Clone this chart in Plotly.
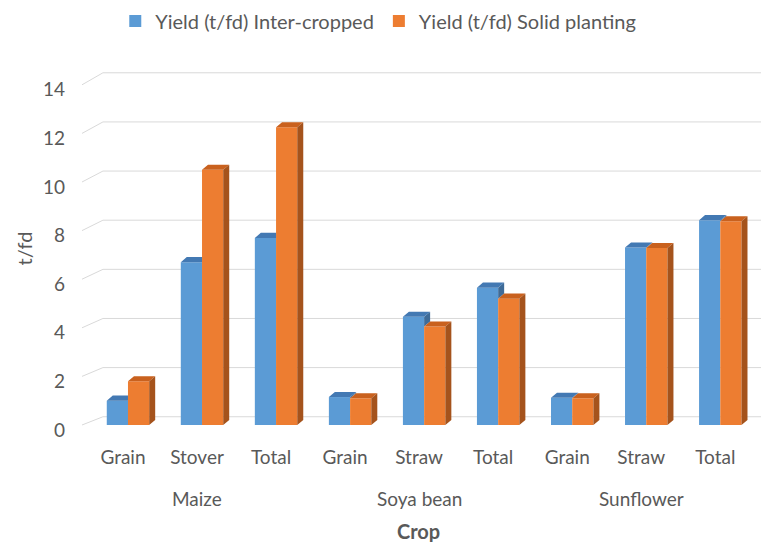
import plotly.graph_objects as go

crops = ["Maize", "Soya bean", "Sunflower"]
parts = ["Grain", "Stover", "Total", "Grain", "Straw", "Total", "Grain", "Straw", "Total"]
crop_of_part = ["Maize"] * 3 + ["Soya bean"] * 3 + ["Sunflower"] * 3
inter_cropped = [1.0, 6.7, 7.7, 1.15, 4.45, 5.65, 1.12, 7.3, 8.43]
solid_planting = [1.8, 10.5, 12.25, 1.1, 4.05, 5.2, 1.1, 7.28, 8.38]
y_ticks = [0, 2, 4, 6, 8, 10, 12, 14]

FONT = "Lato"
GREY = "#595959"
FS = 19
BLUE, BLUE_TOP, BLUE_SIDE = "#5B9BD5", "#4379B3", "#3E6B98"
ORANGE, ORANGE_TOP, ORANGE_SIDE = "#ED7D31", "#C9611E", "#A5531C"

bargap = 0.427
w = (1 - bargap) / 2          # width of one bar in category units
dx = 0.081                    # depth offset (category units)
dy = 0.21                     # depth offset (value units)

xs = list(range(len(parts)))

fig = go.Figure()
fig.add_trace(go.Bar(x=xs, y=inter_cropped, name="Yield (t/fd) Inter-cropped",
                     marker=dict(color=BLUE, line=dict(width=0))))
fig.add_trace(go.Bar(x=xs, y=solid_planting, name="Yield (t/fd) Solid planting",
                     marker=dict(color=ORANGE, line=dict(width=0))))

# 3-D faces built from the data values
def poly_trace(px, py, color):
    return go.Scatter(x=px, y=py, mode="lines", fill="toself", fillcolor=color,
                      line=dict(width=0, color=color), showlegend=False,
                      hoverinfo="skip")

bs_x, bs_y, bt_x, bt_y, ot_x, ot_y, os_x, os_y = ([] for _ in range(8))
for i, (b, o) in enumerate(zip(inter_cropped, solid_planting)):
    xl, xm, xr = i - w, i, i + w
    if b > o:
        bs_x += [xm, xm, xm + dx, xm + dx, None]
        bs_y += [o, b, b + dy, o + dy, None]
        bt_x += [xl, xm, xm + dx, xl + dx, None]
        bt_y += [b, b, b + dy, b + dy, None]
    else:
        bt_x += [xl, xm, xm, xl + dx, None]
        bt_y += [b, b, b + dy, b + dy, None]
    ot_x += [xm, xr, xr + dx, xm + dx, None]
    ot_y += [o, o, o + dy, o + dy, None]
    os_x += [xr, xr, xr + dx, xr + dx, None]
    os_y += [0, o, o + dy, dy, None]

fig.add_trace(poly_trace(bs_x, bs_y, BLUE_SIDE))
fig.add_trace(poly_trace(bt_x, bt_y, BLUE_TOP))
fig.add_trace(poly_trace(ot_x, ot_y, ORANGE_TOP))
fig.add_trace(poly_trace(os_x, os_y, ORANGE_SIDE))

# walls: gridlines on the back wall with short diagonal on the side wall
x_front, x_back, x_end = -0.621, -0.338, 8.7
shapes = []
for v in y_ticks:
    vb = 0.34 + 1.011 * v
    shapes.append(dict(type="path", xref="x", yref="y", layer="below",
                       path=f"M {x_front},{v} L {x_back},{vb} L {x_end},{vb}",
                       line=dict(color="#D9D9D9", width=1)))

annotations = []
for k, c in enumerate(crops):
    annotations.append(dict(x=3 * k + 1, y=-0.199, xref="x", yref="paper",
                            text=c, showarrow=False, xshift=-5,
                            font=dict(family=FONT, size=FS, color=GREY),
                            yanchor="middle"))
annotations.append(dict(x=0.495, y=-0.291, xref="paper", yref="paper",
                        text="<b>Crop</b>", showarrow=False,
                        font=dict(family=FONT, size=FS + 1, color=GREY),
                        yanchor="middle"))

fig.update_layout(
    width=761, height=542,
    margin=dict(l=82, r=0, t=70, b=115),
    paper_bgcolor="white", plot_bgcolor="white",
    barmode="group", bargap=bargap, bargroupgap=0,
    font=dict(family=FONT, color=GREY),
    showlegend=True,
    legend=dict(orientation="h", x=0.049, xanchor="left", y=1.192, yanchor="top",
                font=dict(family=FONT, size=FS + 1, color=GREY), itemwidth=30,
                traceorder="normal"),
    xaxis=dict(range=[-0.621, 8.55], tickmode="array", tickvals=xs, ticktext=parts,
               showgrid=False, zeroline=False, showline=False, ticks="",
               ticklabelstandoff=17, ticklabelshift=-5,
               tickfont=dict(family=FONT, size=FS, color=GREY)),
    yaxis=dict(range=[-0.0823, 14.609], tickmode="array", tickvals=y_ticks,
               showgrid=False, zeroline=False, showline=False, ticks="",
               ticklabelstandoff=16, ticklabelshift=5,
               tickfont=dict(family=FONT, size=FS, color=GREY),
               title=dict(text="t/fd", standoff=4,
                          font=dict(family=FONT, size=FS + 1, color=GREY))),
    shapes=shapes,
    annotations=annotations,
)

fig.write_html("out.html")
